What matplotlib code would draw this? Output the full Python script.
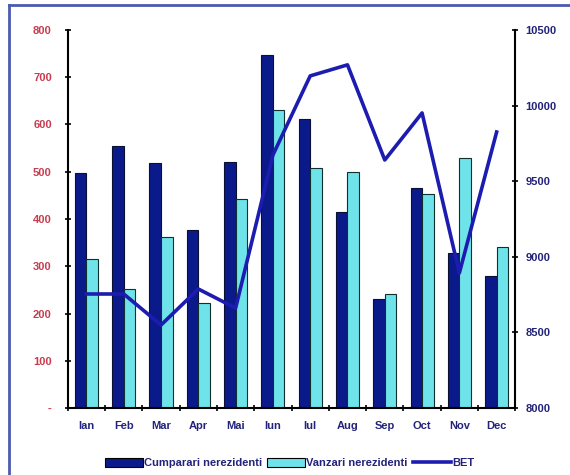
import numpy as np
import matplotlib
matplotlib.use("Agg")
import matplotlib.pyplot as plt
from matplotlib.patches import Rectangle
from matplotlib.lines import Line2D

plt.rcParams['font.family'] = ['Liberation Sans', 'DejaVu Sans']

# date
months = ['Ian', 'Feb', 'Mar', 'Apr', 'Mai', 'Iun', 'Iul', 'Aug', 'Sep', 'Oct', 'Nov', 'Dec']
cumparari = [497, 554, 519, 377, 521, 747, 612, 415, 231, 466, 328, 279]
vanzari = [315, 252, 362, 222, 442, 631, 508, 500, 241, 453, 529, 341]
bet = [8754, 8754, 8549, 8787, 8661, 9673, 10196, 10269, 9640, 9951, 8893, 9825]

left_ticks = [0, 100, 200, 300, 400, 500, 600, 700, 800]
left_labels = ['-', '100', '200', '300', '400', '500', '600', '700', '800']
right_ticks = [8000, 8500, 9000, 9500, 10000, 10500]

dark = '#0a1a8a'
light = '#6fe3ea'
line_c = '#1c1cb0'
red_txt = '#c83c50'
navy_txt = '#23237a'

fig = plt.figure(figsize=(5.7, 4.75), dpi=100)
ax = fig.add_axes([0.119, 0.141, 0.785, 0.796])
ax2 = ax.twinx()

x = np.arange(len(months))
w = 0.31
ax.bar(x - w / 2, cumparari, w, color=dark, edgecolor='#0a1030', linewidth=0.8, zorder=2)
ax.bar(x + w / 2, vanzari, w, color=light, edgecolor='#10302f', linewidth=0.8, zorder=2)
ax2.plot(x, bet, color=line_c, linewidth=2.6, zorder=3)

ax.set_xlim(-0.5, len(months) - 0.5)
ax.set_ylim(0, 800)
ax2.set_ylim(8000, 10500)

for a in (ax, ax2):
    for s in a.spines.values():
        s.set_visible(False)
ax.spines['left'].set_visible(True)
ax.spines['bottom'].set_visible(True)
ax2.spines['right'].set_visible(True)
for s in (ax.spines['left'], ax.spines['bottom'], ax2.spines['right']):
    s.set_linewidth(1.5)
    s.set_color('black')

ax.set_yticks(left_ticks)
ax.set_yticklabels(left_labels, color=red_txt, fontsize=8, fontweight='bold')
ax.tick_params(axis='y', direction='inout', length=5, width=1.2, pad=9)
ax2.set_yticks(right_ticks)
ax2.set_yticklabels([str(t) for t in right_ticks], color=navy_txt, fontsize=8, fontweight='bold')
ax2.tick_params(axis='y', direction='inout', length=5, width=1.2, pad=5)

ax.set_xticks(x)
ax.set_xticklabels(months, color=navy_txt, fontsize=8, fontweight='bold')
ax.tick_params(axis='x', length=0, pad=9)
ax.set_xticks(np.arange(len(months) + 1) - 0.5, minor=True)
ax.tick_params(axis='x', which='minor', direction='inout', length=5, width=1.2)

handles = [
    Rectangle((0, 0), 1, 1, facecolor=dark, edgecolor='black', linewidth=0.8),
    Rectangle((0, 0), 1, 1, facecolor=light, edgecolor='black', linewidth=0.8),
    Line2D([0], [0], color=line_c, linewidth=2.6),
]
fig.legend(handles, ['Cumparari nerezidenti', 'Vanzari nerezidenti', 'BET'],
           loc='center', bbox_to_anchor=(0.508, 0.025), ncol=3, frameon=False,
           handlelength=3.4, handleheight=0.9, handletextpad=0.1,
           columnspacing=0.5, labelcolor=navy_txt, prop={'weight': 'bold', 'size': 8})

# chenar exterior (doar sus si stanga se vad)
fig.add_artist(Line2D([0.016, 0.016], [0.0, 0.99], transform=fig.transFigure,
                      color='#4b5bb0', linewidth=2))
fig.add_artist(Line2D([0.016, 1.0], [0.99, 0.99], transform=fig.transFigure,
                      color='#4b5bb0', linewidth=2))

fig.savefig('out.png', dpi=100)
